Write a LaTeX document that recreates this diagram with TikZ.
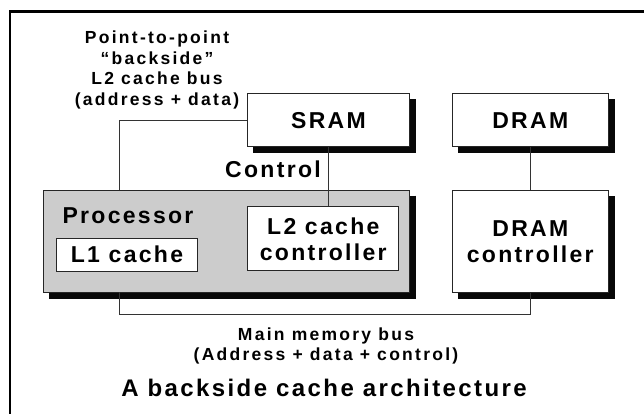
\documentclass[tikz,border=0pt]{standalone}
\usepackage{fontspec}
\setmainfont{Liberation Sans}[LetterSpace=10]
\newfontfamily\notefont{Liberation Sans}[LetterSpace=13]
\usetikzlibrary{calc}
\definecolor{shadowink}{RGB}{8,8,8}

\tikzset{
  unit/.style={draw=black!85, line width=1.1pt, fill=white, inner sep=0pt},
  chip/.style={unit, fill=black!20},
  inner/.style={unit, line width=1pt},
  castshadow/.style={draw=shadowink, line width=6pt, line cap=butt},
  wire/.style={draw=black!80, line width=1pt},
  boxtext/.style={font=\bfseries\fontsize{23}{26}\selectfont, align=center},
  smalltext/.style={font=\notefont\bfseries\fontsize{17.5}{20.5}\selectfont, align=center},
  frame/.style={draw=black, line width=2.5pt}
}

\begin{document}
\begin{tikzpicture}[x=1pt, y=-1pt]
  \useasboundingbox (0,0) rectangle (644,414);

  % page frame: only its left and top rules fall inside the sheet
  \draw[frame] (10,430) |- (660,11.5);

  % memory parts
  \node[unit, minimum width=161.6pt, minimum height=52.7pt] (sram) at (328.5,120.3) {};
  \node[unit, minimum width=156pt, minimum height=52.7pt] (dram) at (530.3,120.3) {};
  \node[unit, minimum width=156pt, minimum height=101.6pt] (dramc) at (530.3,241.5) {};

  % processor with its on-chip blocks
  \node[chip, minimum width=366pt, minimum height=102.3pt] (proc) at (226.3,241.2) {};
  \node[inner, minimum width=151.3pt, minimum height=64.3pt] (l2c) at (323.3,238.8) {};
  \node[inner, minimum width=140.6pt, minimum height=32.7pt] (l1) at (127,254.7) {};

  % drop shadows: thick strokes along the right and lower sides of the outer boxes
  \draw[castshadow] ($(sram.north east)+(3,6)$) -- ($(sram.south east)+(3,6)$);
  \draw[castshadow] ($(sram.south west)+(6,3)$) -- ($(sram.south east)+(6,3)$);
  \draw[castshadow] ($(dram.north east)+(3,6)$) -- ($(dram.south east)+(3,6)$);
  \draw[castshadow] ($(dram.south west)+(6,3)$) -- ($(dram.south east)+(6,3)$);
  \draw[castshadow] ($(dramc.north east)+(3,6)$) -- ($(dramc.south east)+(3,6)$);
  \draw[castshadow] ($(dramc.south west)+(6,3)$) -- ($(dramc.south east)+(6,3)$);
  \draw[castshadow] ($(proc.north east)+(3,6)$) -- ($(proc.south east)+(3,6)$);
  \draw[castshadow] ($(proc.south west)+(6,3)$) -- ($(proc.south east)+(6,3)$);

  % texts inside the boxes
  \node[boxtext] at (sram) {SRAM};
  \node[boxtext] at (dram) {DRAM};
  \node[boxtext] at (dramc) {DRAM\\controller};
  \node[boxtext] at (l2c) {L2 cache\\controller};
  \node[boxtext] at (l1) {L1 cache};
  \node[boxtext, anchor=base west] (proclbl) at (59,223.3) {Processor};

  % connection points on the processor edges
  \coordinate (ptop) at (119,190.05);
  \coordinate (pbot) at (119,292.35);
  \coordinate (mbus) at (119,314);

  % buses and control line
  \draw[wire] (sram.west) -| (ptop);
  \draw[wire] (sram.south) -- (sram.south |- l2c.north);
  \draw[wire] (dram.south) -- (dramc.north);
  \draw[wire] (pbot) -- (mbus) -| (dramc.south);

  % labels
  \node[smalltext] (bslbl) at (157,70) {Point-to-point\\“backside”\\L2 cache bus\\(address + data)};
  \node[boxtext, anchor=base] (ctllbl) at (273,177.3) {Control};
  \node[smalltext] (mblbl) at (326,346) {Main memory bus\\(Address + data + control)};
  \node[boxtext, font=\bfseries\fontsize{24}{26}\selectfont, anchor=base] (title) at (324,396) {A backside cache architecture};
\end{tikzpicture}
\end{document}
